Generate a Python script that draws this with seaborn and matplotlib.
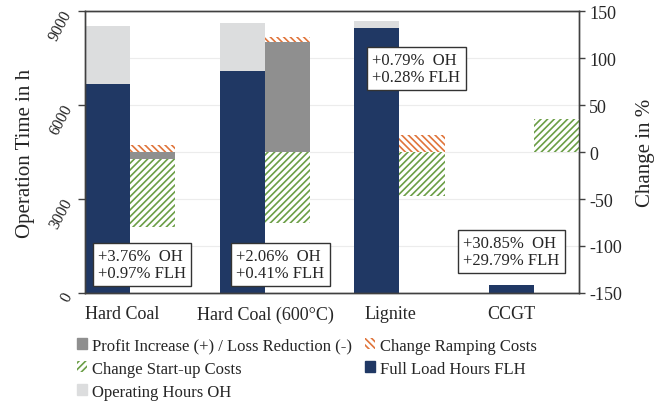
import numpy as np
import pandas as pd
import matplotlib
matplotlib.use("Agg")
import matplotlib.pyplot as plt
from matplotlib.patches import Patch
from matplotlib.ticker import MultipleLocator
import seaborn as sns

plants = ["Hard Coal", "Hard Coal (600°C)", "Lignite", "CCGT"]
operating_hours = [8520, 8620, 8680, 260]
full_load_hours = [6670, 7085, 8460, 255]
profit_change = [-7.5, 116.8, 0.0, 0.0]
startup_change = [-72.0, -75.7, -47.0, 35.0]
ramping_change = [8.0, 5.4, 18.5, 0.0]
box_texts = ["+3.76%  OH\n+0.97% FLH", "+2.06%  OH\n+0.41% FLH",
             "+0.79%  OH\n+0.28% FLH", "+30.85%  OH\n+29.79% FLH"]
left_ticks = [0, 3000, 6000, 9000]
right_ticks = [-150, -100, -50, 0, 50, 100, 150]

NAVY = "#203864"
LIGHT = "#DCDDDE"
GRAY = "#8F8F8F"
ORANGE = "#E0743A"
GREEN = "#6B9E46"
BAR_W = 0.335

sns.set_theme(style="white")
plt.rcParams["font.family"] = ["Liberation Serif", "DejaVu Serif"]
plt.rcParams["hatch.linewidth"] = 1.2
plt.rcParams["axes.unicode_minus"] = False

fig = plt.figure(figsize=(6.65, 4.06), dpi=100)
ax = fig.add_axes([0.128, 0.276, 0.743, 0.694])

df = pd.DataFrame({"plant": plants, "oh": operating_hours, "flh": full_load_hours})
sns.barplot(data=df, x="plant", y="oh", color=LIGHT, width=BAR_W, saturation=1,
            errorbar=None, linewidth=0, ax=ax)
sns.barplot(data=df, x="plant", y="flh", color=NAVY, width=BAR_W, saturation=1,
            errorbar=None, linewidth=0, ax=ax)

# stacked change bars on the right axis, positives up and negatives down
ax2 = ax.twinx()
x = np.arange(len(plants)) + BAR_W
pos = np.zeros(len(plants))
neg = np.zeros(len(plants))
series = [
    (profit_change, dict(color=GRAY)),
    (startup_change, dict(facecolor="white", edgecolor=GREEN, hatch="/////")),
    (ramping_change, dict(facecolor="white", edgecolor=ORANGE, hatch="\\\\\\\\\\")),
]
for vals, kw in series:
    vals = np.array(vals)
    bottom = np.where(vals >= 0, pos, neg)
    ax2.bar(x, vals, width=BAR_W, bottom=bottom, linewidth=0, **kw)
    pos += np.clip(vals, 0, None)
    neg += np.clip(vals, None, 0)

ax.set_xlim(-BAR_W / 2, len(plants) - 1 + BAR_W * 1.5)
ax.set_ylim(0, 9000)
ax2.set_ylim(-150, 150)

ax.set_xticks([0.11, 1.175, 2.10, 3.0])
ax.set_xticklabels(plants, fontsize=13)
ax.set_xlabel("")
ax.tick_params(axis="x", bottom=False, pad=3)

ax.set_yticks(left_ticks)
ax.set_yticklabels([str(v) for v in left_ticks], rotation=62, rotation_mode="anchor",
                   ha="right", va="center", fontsize=11.5)
ax.yaxis.set_minor_locator(MultipleLocator(1500))
ax.tick_params(axis="y", which="major", left=True, length=5, width=1, color="#404040", pad=7)
ax.tick_params(axis="y", which="minor", left=False, length=0)
ax.grid(axis="y", which="both", color="#ECECEC", lw=0.8)
ax.set_axisbelow(True)
ax.set_ylabel("Operation Time in h", fontsize=15, labelpad=8)

ax2.set_yticks(right_ticks)
ax2.set_yticklabels([str(v) for v in right_ticks], fontsize=13)
ax2.tick_params(axis="y", right=True, length=4, width=1, color="#404040", pad=3)
ax2.set_ylabel("Change in %", fontsize=15, labelpad=10)

for a in (ax, ax2):
    for s in a.spines.values():
        s.set_color("#404040")
        s.set_linewidth(1)

box_pos = [(0.026, 0.043, "bottom"), (0.306, 0.043, "bottom"),
           (0.581, 0.855, "top"), (0.765, 0.089, "bottom")]
for txt, (bx, by, va) in zip(box_texts, box_pos):
    ax2.text(bx, by, txt, transform=ax2.transAxes, ha="left", va=va, fontsize=12,
             linespacing=1.05, zorder=10,
             bbox=dict(boxstyle="square,pad=0.32", fc="white", ec="#333333", lw=1))

handles = [
    Patch(color=GRAY, label="Profit Increase (+) / Loss Reduction (-)"),
    Patch(facecolor="white", edgecolor=GREEN, hatch="/////", lw=0, label="Change Start-up Costs"),
    Patch(color=LIGHT, label="Operating Hours OH"),
    Patch(facecolor="white", edgecolor=ORANGE, hatch="\\\\\\\\\\", lw=0, label="Change Ramping Costs"),
    Patch(color=NAVY, label="Full Load Hours FLH"),
]
fig.legend(handles=handles, loc="upper left", bbox_to_anchor=(0.1165, 0.166), ncol=2,
           frameon=False, fontsize=12, handlelength=0.6, handleheight=0.6,
           handletextpad=0.3, columnspacing=0.75, labelspacing=0.42,
           borderpad=0, borderaxespad=0)

fig.savefig("out.png", dpi=100)
